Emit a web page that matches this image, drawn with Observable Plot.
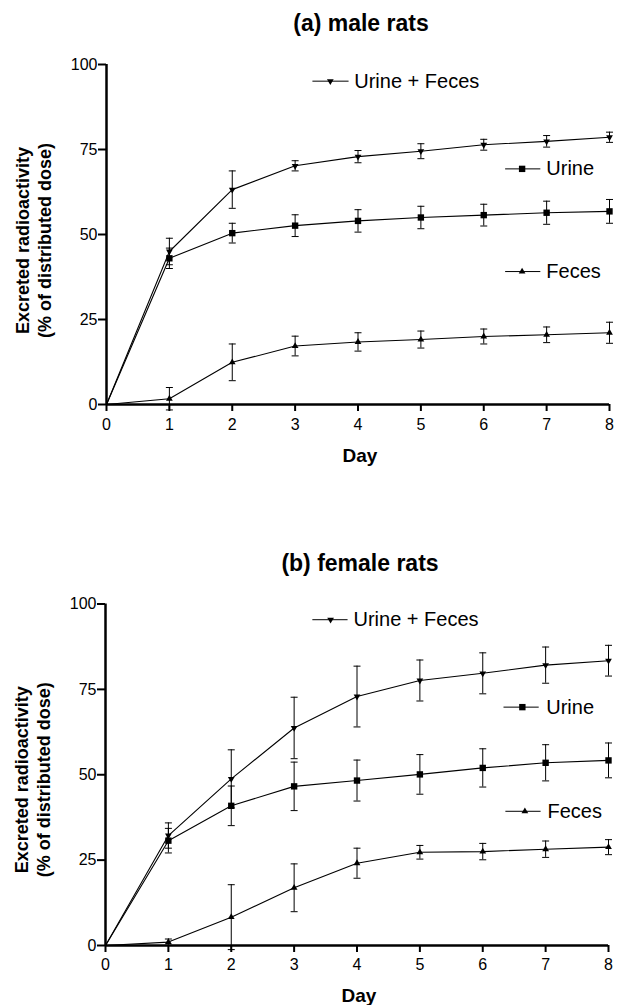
<!DOCTYPE html>
<html>
<head>
<meta charset="utf-8">
<script src="https://cdn.jsdelivr.net/npm/d3@7"></script>
<script src="https://cdn.jsdelivr.net/npm/@observablehq/plot@0.6"></script>
<style>
  html, body { margin: 0; padding: 0; background: #fff; }
  body { width: 617px; height: 1005px; position: relative; overflow: hidden; font-family: "Liberation Sans", Arial, sans-serif; }
  .title { position: absolute; font-weight: bold; font-size: 23px; line-height: 23px; white-space: nowrap; transform: translateX(-50%); color: #000; }
  .panel { position: absolute; left: 0; }
</style>
</head>
<body>
<div class="title" id="ta" style="left:361px; top:12px;">(a) male rats</div>
<div class="title" id="tb" style="left:360px; top:552px;">(b) female rats</div>
<div class="panel" id="pa" style="top:40px;"></div>
<div class="panel" id="pb" style="top:580px;"></div>
<script>
// ---------- data ----------
const days = [0, 1, 2, 3, 4, 5, 6, 7, 8];
const xTicks = [0, 1, 2, 3, 4, 5, 6, 7, 8];
const yTicks = [0, 25, 50, 75, 100];
const seriesNames = ["Urine + Feces", "Urine", "Feces"];

// (a) male rats
const maleUF      = [0, 45.0, 63.2, 70.2, 72.9, 74.5, 76.4, 77.4, 78.6];
const maleUFerr   = [0, 3.9, 5.5, 1.5, 1.8, 2.2, 1.6, 1.7, 1.5];
const maleUrine   = [0, 43.0, 50.4, 52.6, 54.0, 55.0, 55.7, 56.4, 56.8];
const maleUrineErr= [0, 3.0, 2.9, 3.2, 3.3, 3.3, 3.2, 3.4, 3.5];
const maleFeces   = [0, 1.7, 12.4, 17.2, 18.4, 19.1, 20.0, 20.5, 21.1];
const maleFecesErr= [0, 3.3, 5.4, 2.9, 2.7, 2.5, 2.2, 2.3, 3.1];

// (b) female rats
const femaleUF       = [0, 32.2, 48.8, 63.7, 72.9, 77.6, 79.7, 82.1, 83.4];
const femaleUFerr    = [0, 3.7, 8.5, 9.0, 8.9, 6.0, 6.0, 5.3, 4.5];
const femaleUrine    = [0, 30.7, 40.9, 46.6, 48.3, 50.1, 52.0, 53.5, 54.2];
const femaleUrineErr = [0, 3.6, 5.8, 7.1, 6.0, 5.8, 5.6, 5.3, 5.1];
const femaleFeces    = [0, 1.0, 8.3, 16.9, 24.1, 27.3, 27.5, 28.2, 28.8];
const femaleFecesErr = [0, 0.9, 9.5, 7.0, 4.4, 2.0, 2.4, 2.4, 2.2];

// ---------- symbols ----------
const triDown = {
  draw(ctx, size) {
    const a = Math.sqrt(size * 4 / Math.sqrt(3));
    const h = a * Math.sqrt(3) / 2;
    ctx.moveTo(0, h * 2 / 3);
    ctx.lineTo(a / 2, -h / 3);
    ctx.lineTo(-a / 2, -h / 3);
    ctx.closePath();
  }
};
const triUp = {
  draw(ctx, size) {
    const a = Math.sqrt(size * 4 / Math.sqrt(3));
    const h = a * Math.sqrt(3) / 2;
    ctx.moveTo(0, -h * 2 / 3);
    ctx.lineTo(a / 2, h / 3);
    ctx.lineTo(-a / 2, h / 3);
    ctx.closePath();
  }
};
const capSym = {
  draw(ctx) { ctx.moveTo(-3.5, 0); ctx.lineTo(3.5, 0); }
};
const symbolOf = {"Urine + Feces": triDown, "Urine": "square", "Feces": triUp};
const radiusOf = {"Urine + Feces": 2.5, "Urine": 3.6, "Feces": 2.5};

function buildRows(vals, errs) {
  const rows = [];
  seriesNames.forEach((s, i) => {
    days.forEach((d, j) => rows.push({series: s, day: d, v: vals[i][j], e: errs[i][j]}));
  });
  return rows;
}

function panel(rows, legend, L) {
  const pts = rows.filter(r => r.day > 0);
  const marks = [
    Plot.axisX({ticks: xTicks, tickSize: 7, tickPadding: L.xPad, strokeWidth: 2, label: null, fontSize: 16}),
    Plot.axisY({ticks: yTicks, tickSize: 8, tickPadding: 1, strokeWidth: 2, label: null, fontSize: 16}),
    Plot.ruleX([0], {stroke: "black", strokeWidth: 2.5}),
    Plot.ruleY([0], {stroke: "black", strokeWidth: 2.5}),
    Plot.ruleX(pts, {x: "day", y1: d => d.v - d.e, y2: d => d.v + d.e, stroke: "black", strokeWidth: 1}),
    Plot.dot(pts, {x: "day", y: d => d.v + d.e, symbol: () => capSym, r: 3, fill: "none", stroke: "black", strokeWidth: 1}),
    Plot.dot(pts, {x: "day", y: d => d.v - d.e, symbol: () => capSym, r: 3, fill: "none", stroke: "black", strokeWidth: 1}),
    Plot.line(rows, {x: "day", y: "v", z: "series", stroke: "black", strokeWidth: 1.1})
  ];
  seriesNames.forEach(s => {
    marks.push(Plot.dot(pts.filter(r => r.series === s), {x: "day", y: "v", symbol: () => symbolOf[s], r: radiusOf[s], fill: "black", stroke: "none"}));
  });
  // legend
  marks.push(Plot.link(legend, {x1: "x1", x2: "x2", y1: "y", y2: "y", stroke: "black", strokeWidth: 1}));
  legend.forEach(l => {
    marks.push(Plot.dot([l], {x: "xm", y: "y", symbol: () => symbolOf[l.label], r: radiusOf[l.label], fill: "black", stroke: "none"}));
  });
  marks.push(Plot.text(legend, {x: "xt", y: "y", text: "label", textAnchor: "start", fontSize: 20, fill: "black"}));
  // axis titles
  marks.push(Plot.text(["Day"], {frameAnchor: "bottom", text: d => d, dy: L.dayDy, dx: 2, textAnchor: "middle", lineAnchor: "top", fontSize: 19, fontWeight: "bold", fill: "black"}));
  marks.push(Plot.text(["Excreted radioactivity\n(% of distributed dose)"], {frameAnchor: "left", text: d => d, rotate: -90, dx: -74, dy: L.labDy, textAnchor: "middle", lineAnchor: "middle", lineHeight: 1.22, fontSize: 18, fontWeight: "bold", fill: "black"}));

  return Plot.plot({
    width: 617,
    height: L.height,
    marginTop: L.mt,
    marginBottom: L.mb,
    marginLeft: L.ml,
    marginRight: L.mr,
    x: {domain: [0, 8]},
    y: {domain: [0, 100]},
    style: {fontFamily: "'Liberation Sans', Arial, sans-serif", fontSize: "16px", color: "black", background: "white", overflow: "visible"},
    marks
  });
}

const rowsA = buildRows([maleUF, maleUrine, maleFeces], [maleUFerr, maleUrineErr, maleFecesErr]);
const rowsB = buildRows([femaleUF, femaleUrine, femaleFeces], [femaleUFerr, femaleUrineErr, femaleFecesErr]);

const legendA = [
  {label: "Urine + Feces", x1: 3.275, x2: 3.85, xm: 3.56, xt: 3.94, y: 95.1},
  {label: "Urine", x1: 6.34, x2: 6.9, xm: 6.61, xt: 6.995, y: 69.3},
  {label: "Feces", x1: 6.34, x2: 6.9, xm: 6.61, xt: 6.995, y: 39.1}
];
const legendB = [
  {label: "Urine + Feces", x1: 3.29, x2: 3.85, xm: 3.58, xt: 3.944, y: 95.4},
  {label: "Urine", x1: 6.33, x2: 6.89, xm: 6.63, xt: 7.01, y: 69.8},
  {label: "Feces", x1: 6.36, x2: 6.92, xm: 6.67, xt: 7.03, y: 39.3}
];

document.getElementById("pa").appendChild(panel(rowsA, legendA, {height: 430, mt: 24, mb: 66, ml: 106, mr: 8, xPad: 7, dayDy: 44, labDy: 6}));
document.getElementById("pb").appendChild(panel(rowsB, legendB, {height: 425, mt: 23.5, mb: 60, ml: 105, mr: 9, xPad: 6, dayDy: 43, labDy: 5}));
</script>
</body>
</html>
